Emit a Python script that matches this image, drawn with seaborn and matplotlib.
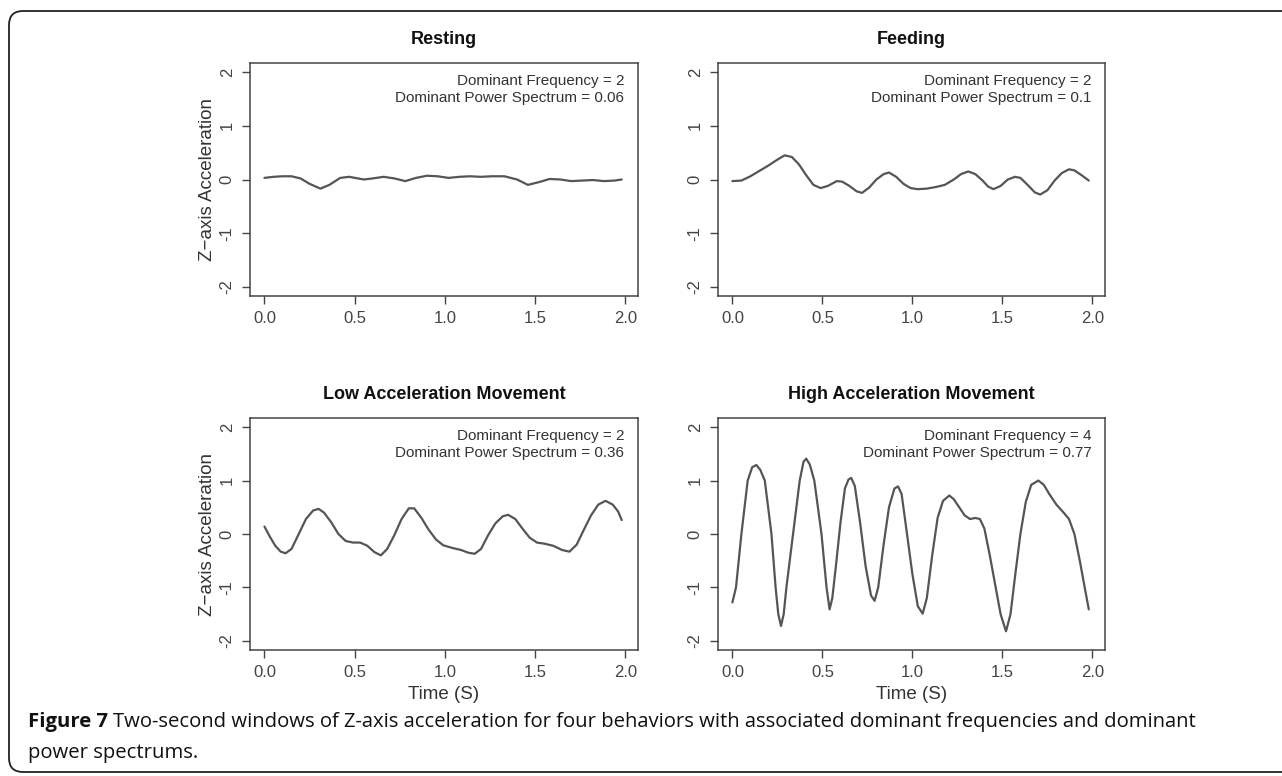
import numpy as np
import matplotlib
matplotlib.use("Agg")
import matplotlib.pyplot as plt
import seaborn as sns
from matplotlib.patches import FancyBboxPatch

# values (time in s, z-axis acceleration)
rest_t = [0.00, 0.05, 0.10, 0.15, 0.20, 0.25, 0.31, 0.36, 0.42, 0.47, 0.55, 0.60, 0.66, 0.72,
          0.78, 0.84, 0.90, 0.96, 1.02, 1.08, 1.14, 1.20, 1.26, 1.33, 1.40, 1.46, 1.52, 1.58,
          1.64, 1.70, 1.76, 1.82, 1.88, 1.94, 1.98]
rest_z = [0.03, 0.05, 0.06, 0.06, 0.02, -0.08, -0.17, -0.10, 0.03, 0.05, 0.00, 0.02, 0.05, 0.02,
          -0.03, 0.03, 0.07, 0.06, 0.03, 0.05, 0.06, 0.05, 0.06, 0.06, 0.00, -0.10, -0.05, 0.01,
          0.00, -0.03, -0.02, -0.01, -0.03, -0.02, 0.00]

feed_t = [0.00, 0.05, 0.10, 0.15, 0.20, 0.25, 0.29, 0.33, 0.37, 0.41, 0.45, 0.49, 0.53, 0.58,
          0.61, 0.65, 0.69, 0.72, 0.76, 0.80, 0.84, 0.87, 0.91, 0.95, 0.99, 1.03, 1.08, 1.13,
          1.18, 1.23, 1.27, 1.31, 1.35, 1.39, 1.42, 1.45, 1.49, 1.53, 1.57, 1.60, 1.64, 1.68,
          1.71, 1.75, 1.79, 1.83, 1.87, 1.90, 1.94, 1.98]
feed_z = [-0.03, -0.02, 0.06, 0.16, 0.26, 0.37, 0.45, 0.42, 0.28, 0.08, -0.10, -0.16, -0.12, -0.03,
          -0.04, -0.12, -0.22, -0.25, -0.15, 0.00, 0.10, 0.13, 0.05, -0.08, -0.16, -0.18, -0.17, -0.14,
          -0.10, 0.00, 0.10, 0.15, 0.10, -0.02, -0.13, -0.18, -0.12, 0.00, 0.05, 0.03, -0.10, -0.24,
          -0.28, -0.20, -0.02, 0.12, 0.19, 0.17, 0.08, -0.02]

low_t = [0.00, 0.03, 0.06, 0.09, 0.117, 0.15, 0.19, 0.23, 0.27, 0.30, 0.33, 0.37, 0.41, 0.45,
         0.49, 0.53, 0.57, 0.61, 0.645, 0.68, 0.72, 0.76, 0.80, 0.83, 0.87, 0.91, 0.95, 0.99,
         1.04, 1.09, 1.13, 1.165, 1.20, 1.24, 1.28, 1.32, 1.35, 1.39, 1.43, 1.47, 1.51, 1.55,
         1.60, 1.65, 1.69, 1.73, 1.77, 1.81, 1.85, 1.89, 1.93, 1.96, 1.98]
low_z = [0.14, -0.05, -0.22, -0.33, -0.36, -0.28, 0.00, 0.28, 0.44, 0.47, 0.40, 0.22, 0.00, -0.13,
         -0.16, -0.16, -0.22, -0.34, -0.40, -0.28, -0.02, 0.28, 0.48, 0.48, 0.30, 0.08, -0.10, -0.21,
         -0.26, -0.30, -0.35, -0.37, -0.28, -0.02, 0.20, 0.33, 0.36, 0.28, 0.10, -0.07, -0.16, -0.18,
         -0.22, -0.30, -0.33, -0.20, 0.08, 0.35, 0.55, 0.62, 0.55, 0.42, 0.26]

high_t = [0.00, 0.02, 0.05, 0.085, 0.11, 0.133, 0.155, 0.18, 0.217, 0.24, 0.255, 0.27, 0.285, 0.30,
          0.337, 0.374, 0.395, 0.41, 0.43, 0.455, 0.495, 0.523, 0.54, 0.555, 0.575, 0.60, 0.625,
          0.645, 0.66, 0.68, 0.71, 0.74, 0.77, 0.79, 0.81, 0.84, 0.87, 0.90, 0.92, 0.94, 0.97,
          1.00, 1.03, 1.057, 1.08, 1.11, 1.14, 1.17, 1.205, 1.23, 1.26, 1.29, 1.32, 1.35, 1.375,
          1.40, 1.43, 1.46, 1.49, 1.52, 1.545, 1.57, 1.60, 1.63, 1.66, 1.70, 1.73, 1.76, 1.80,
          1.84, 1.87, 1.90, 1.93, 1.96, 1.98]
high_z = [-1.28, -1.00, 0.00, 1.00, 1.25, 1.29, 1.20, 1.00, 0.00, -1.00, -1.50, -1.72, -1.50, -1.00,
          0.00, 1.00, 1.35, 1.41, 1.30, 1.00, 0.00, -1.00, -1.41, -1.20, -0.60, 0.20, 0.85,
          1.02, 1.05, 0.90, 0.20, -0.60, -1.15, -1.25, -1.00, -0.20, 0.50, 0.85, 0.89, 0.75, 0.00,
          -0.75, -1.35, -1.49, -1.20, -0.40, 0.30, 0.62, 0.72, 0.65, 0.50, 0.35, 0.28, 0.30, 0.28,
          0.10, -0.40, -0.95, -1.50, -1.82, -1.50, -0.80, 0.00, 0.60, 0.92, 1.00, 0.92, 0.75, 0.55,
          0.40, 0.28, 0.00, -0.50, -1.05, -1.41]

titles = ["Resting", "Feeding", "Low Acceleration Movement", "High Acceleration Movement"]
dom_freq = [2, 2, 2, 4]
dom_power = ["0.06", "0.1", "0.36", "0.77"]
series = [(rest_t, rest_z), (feed_t, feed_z), (low_t, low_z), (high_t, high_z)]

sns.set_style("ticks")
plt.rcParams['font.family'] = ['Liberation Sans', 'DejaVu Sans']

W, H = 1282, 776
fig = plt.figure(figsize=(W / 100, H / 100), dpi=100)

# rounded frame around the figure (open on the right like the scan)
bg = fig.add_axes([0, 0, 1, 1])
bg.set_xlim(0, W)
bg.set_ylim(H, 0)
bg.axis("off")
bg.add_patch(FancyBboxPatch((9, 11), 1300, 761, boxstyle="round,pad=0,rounding_size=14",
                            fc="none", ec="#222222", lw=1.3))

# panel boxes in pixels: left, top, right, bottom
boxes = [(250, 63, 638, 296), (718, 63, 1105, 296),
         (250, 418, 638, 650), (718, 418, 1105, 650)]
axc = "#444444"
for i, (l, t, r, b) in enumerate(boxes):
    ax = fig.add_axes([l / W, 1 - b / H, (r - l) / W, (b - t) / H])
    x, z = series[i]
    sns.lineplot(x=x, y=z, ax=ax, color="#555555", lw=1.6)
    ax.set_xlim(-0.08, 2.07)
    ax.set_ylim(-2.17, 2.17)
    ax.set_xticks([0.0, 0.5, 1.0, 1.5, 2.0])
    ax.set_xticklabels(["0.0", "0.5", "1.0", "1.5", "2.0"])
    ax.set_yticks([-2, -1, 0, 1, 2])
    ax.set_yticklabels(["-2", "-1", "0", "1", "2"], rotation=90, va="center")
    ax.tick_params(colors=axc, labelcolor="#444444", labelsize=12, length=6, width=1, pad=5)
    for s in ax.spines.values():
        s.set_visible(True)
        s.set_color(axc)
        s.set_linewidth(1.1)
    ax.set_title(titles[i], fontsize=13, fontweight="bold", pad=14, color="#111111")
    ax.text(1.995, 1.83, f"Dominant Frequency = {dom_freq[i]}", ha="right", va="center",
            fontsize=11, color="#333333")
    ax.text(1.995, 1.52, f"Dominant Power Spectrum = {dom_power[i]}", ha="right", va="center",
            fontsize=11, color="#333333")
    if i % 2 == 0:
        ax.set_ylabel("Z\u2212axis Acceleration", fontsize=13.5, color="#333333", labelpad=3)
    else:
        ax.set_ylabel("")
    if i >= 2:
        ax.set_xlabel("Time (S)", fontsize=13.5, color="#333333", labelpad=4)
    else:
        ax.set_xlabel("")

# caption
cap_font = ['Open Sans', 'DejaVu Sans']
t1 = fig.text(28 / W, 1 - 722 / H, "Figure 7", fontsize=14.6, fontweight="bold",
              family=cap_font, va="center", ha="left", color="#111111")
fig.canvas.draw()
bb = t1.get_window_extent()
fig.text(bb.x1 / W + 5 / W, 1 - 722 / H,
         "Two-second windows of Z-axis acceleration for four behaviors with associated dominant frequencies and dominant",
         fontsize=14.6, family=cap_font, va="center", ha="left", color="#111111")
fig.text(28 / W, 1 - 753 / H, "power spectrums.", fontsize=14.6, family=cap_font,
         va="center", ha="left", color="#111111")

fig.savefig("out.png", dpi=100)
